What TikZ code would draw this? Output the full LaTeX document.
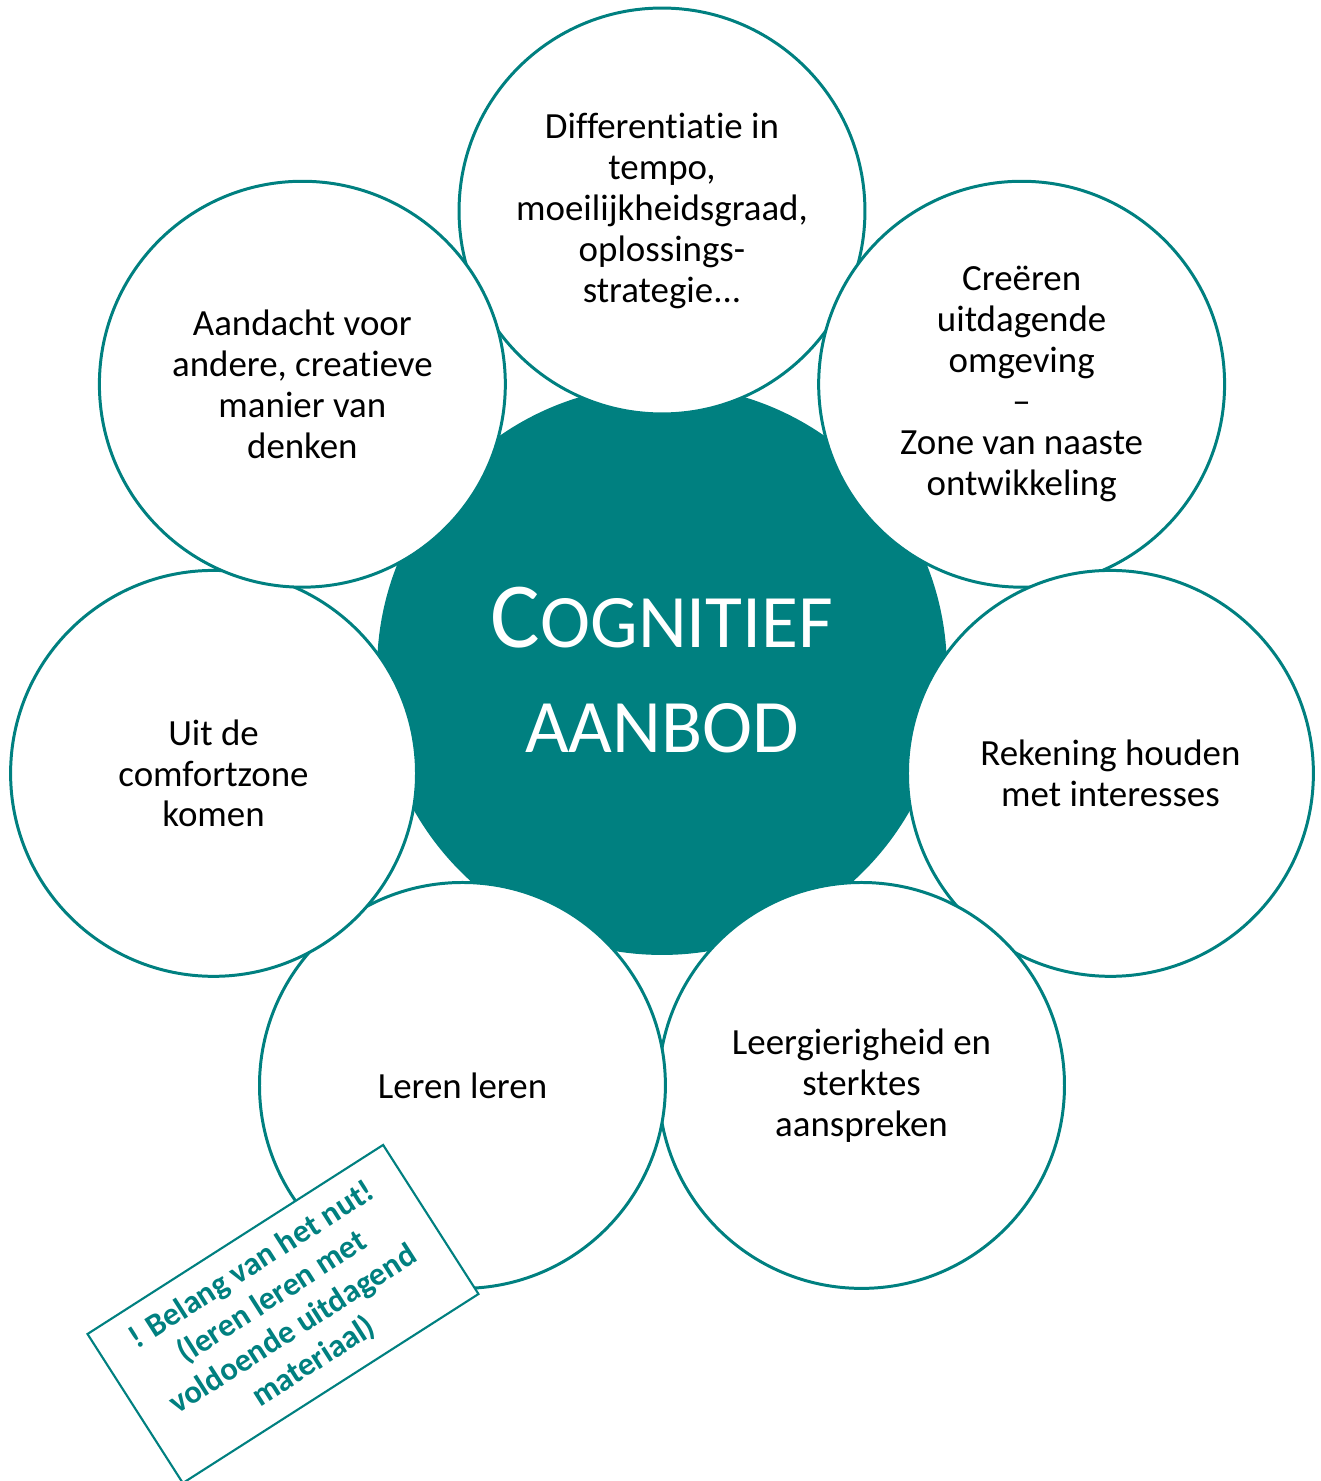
\documentclass[tikz,border=0pt]{standalone}
\usepackage{fontspec}
\setmainfont{Carlito}[Ligatures=NoCommon]
\definecolor{cogteal}{RGB}{0,128,128}
\tikzstyle{core} = [circle, fill=cogteal, minimum size=11.4cm, text=white, align=center, font=\fontsize{43}{60}\selectfont]
\tikzstyle{bubble} = [circle, draw=cogteal, line width=1.7pt, fill=white, minimum size=8.12cm, inner sep=0pt, yshift=0.06cm, align=center, font=\fontsize{21}{23.3}\selectfont]
\tikzstyle{note} = [rectangle, draw=cogteal, line width=1.2pt, fill=white, minimum width=7.02cm, minimum height=3.54cm, align=center, text=cogteal, font=\fontsize{18.5}{21.8}\selectfont\bfseries]

\begin{document}
\begin{tikzpicture}[x=0.02cm, y=0.02cm]
    \useasboundingbox (-662,-807) rectangle (659,674);

    % Center
    \node (core) [core, yshift=0.08cm] at (0,0) {{\fontsize{53}{60}\selectfont C}OGNITIEF\\AANBOD};

    % Bubbles
    \node (tempo) [bubble] at (90:460) {Differentiatie in\\tempo,\\moeilijkheidsgraad,\\oplossings-\\strategie...};
    \node (omgeving) [bubble] at (38.57:460) {Creëren\\uitdagende\\omgeving\\–\\Zone van naaste\\ontwikkeling};
    \node (interesses) [bubble] at (-12.86:460) {Rekening houden\\met interesses};
    \node (sterktes) [bubble] at (-64.29:460) {Leergierigheid en\\sterktes\\aanspreken};
    \node (lerenleren) [bubble] at (-115.71:460) {Leren leren};
    \node (comfortzone) [bubble] at (192.86:460) {Uit de\\comfortzone\\komen};
    \node (denken) [bubble] at (141.43:460) {Aandacht voor\\andere, creatieve\\manier van\\denken};

    % Note
    \node (belang) [note, rotate=32.6] at (-379,-640) {! Belang van het nut!\\(leren leren met\\voldoende uitdagend\\materiaal)};
\end{tikzpicture}
\end{document}
